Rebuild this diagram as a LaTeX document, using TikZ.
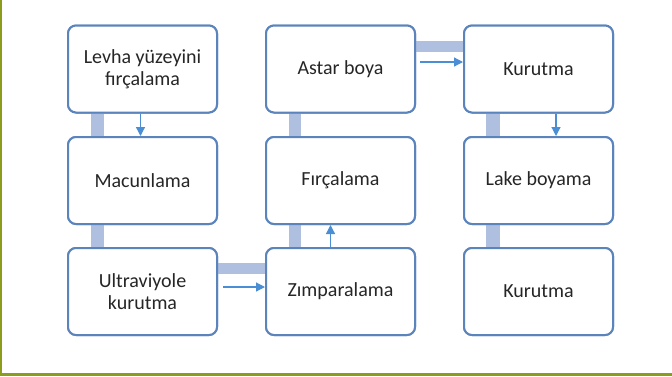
\documentclass[tikz,border=0pt]{standalone}
\usepackage{fontspec}
\setmainfont{Carlito}
\usetikzlibrary{arrows.meta}
\definecolor{boxline}{HTML}{5B84BC}
\definecolor{barcol}{HTML}{AEBFDF}
\definecolor{arrcol}{HTML}{4A8FD6}
\definecolor{txtcol}{HTML}{262626}
\definecolor{green}{HTML}{8C9C1C}
\begin{document}
\begin{tikzpicture}[x=1bp,y=-1bp,
  stepbox/.style={draw=boxline,line width=2bp,fill=white,rounded corners=8bp,
    minimum width=149bp,minimum height=87bp,inner sep=0pt,align=center,
    text=txtcol,font=\fontsize{20bp}{22bp}\selectfont},
  bar/.style={fill=barcol},
  flow/.style={draw=arrcol,line width=1.2bp,-{Triangle[length=9bp,width=9bp]}}]
\useasboundingbox (0,0) rectangle (672,376);
\fill[white] (0,0) rectangle (672,376);
\fill[green] (0,0) rectangle (1.5,376);
\fill[green] (0,373) rectangle (672,376);
% nodes (positions)
\node[stepbox] (a1) at (142.5,69) {Levha yüzeyini\\fırçalama};
\node[stepbox] (a2) at (142.5,180.5) {Macunlama};
\node[stepbox] (a3) at (142.5,291.5) {Ultraviyole\\kurutma};
\node[stepbox] (b3) at (340.5,291.5) {Zımparalama};
\node[stepbox] (b2) at (340.5,180.5) {Fırçalama};
\node[stepbox] (b1) at (340.5,69) {Astar boya};
\node[stepbox] (c1) at (538.5,69) {Kurutma};
\node[stepbox] (c2) at (538.5,180.5) {Lake boyama};
\node[stepbox] (c3) at (538.5,291.5) {Kurutma};
% thick bars
\fill[bar] ([xshift=24bp]a1.south west) rectangle ([xshift=37bp]a2.north west);
\fill[bar] ([xshift=24bp]a2.south west) rectangle ([xshift=37bp]a3.north west);
\fill[bar] ([yshift=-15.5bp]a3.north east) rectangle ([yshift=-26.5bp]b3.north west);
\fill[bar] ([xshift=24bp]b2.south west) rectangle ([xshift=36bp]b3.north west);
\fill[bar] ([xshift=24bp]b1.south west) rectangle ([xshift=36bp]b2.north west);
\fill[bar] ([yshift=-16.5bp]b1.north east) rectangle ([yshift=-27.5bp]c1.north west);
\fill[bar] ([xshift=23bp]c1.south west) rectangle ([xshift=37bp]c2.north west);
\fill[bar] ([xshift=23bp]c2.south west) rectangle ([xshift=37bp]c3.north west);
% boxes drawn again over the bars
\foreach \n/\t in {a1/{Levha yüzeyini\\fırçalama},a2/Macunlama,a3/{Ultraviyole\\kurutma},
  b3/Zımparalama,b2/Fırçalama,b1/Astar boya,c1/Kurutma,c2/Lake boyama,c3/Kurutma}
  {\node[stepbox] at (\n.center) {\t};}
% arrows
\draw[flow] ([xshift=-2bp]a1.south) -- ([xshift=-2bp]a2.north);
\draw[flow] ([xshift=5bp,yshift=4.5bp]a3.east) -- ([yshift=4.5bp]b3.west);
\draw[flow] ([xshift=-10bp]b3.north) -- ([xshift=-10bp]b2.south);
\draw[flow] ([xshift=4bp,yshift=7bp]b1.east) -- ([yshift=7bp]c1.west);
\draw[flow] ([xshift=17.5bp]c1.south) -- ([xshift=17.5bp]c2.north);
\end{tikzpicture}
\end{document}
